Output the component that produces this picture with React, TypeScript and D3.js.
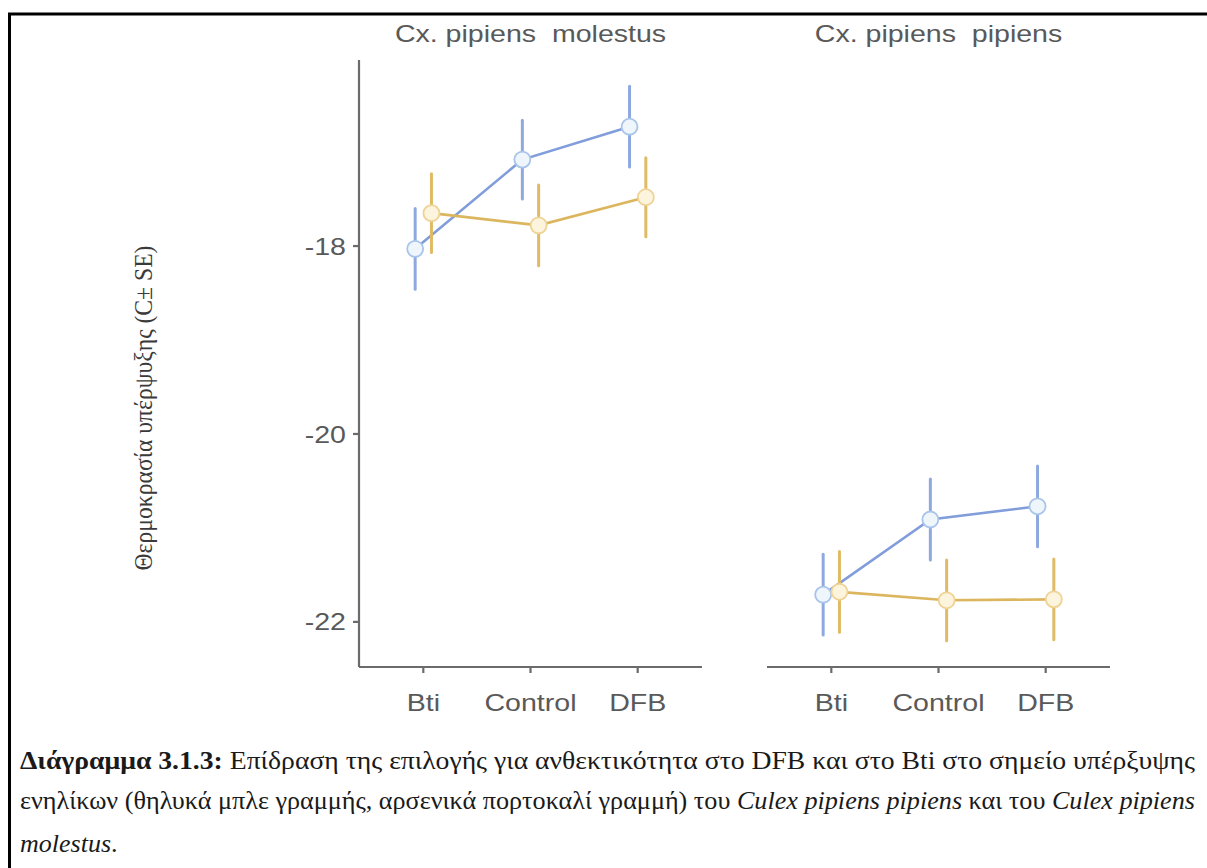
import React from "react";
import * as d3 from "d3";

// Treatments on the x axis, facet titles and y ticks
const treatments = ["Bti", "Control", "DFB"];
const facetTitles = ["Cx. pipiens  molestus", "Cx. pipiens  pipiens"];
const yTicks = [-18, -20, -22];

// Supercooling point means (°C) per treatment: Bti, Control, DFB
const molestusFemale = [-18.03, -17.08, -16.73];
const molestusMale = [-17.65, -17.78, -17.48];
const pipiensFemale = [-21.71, -20.91, -20.77];
const pipiensMale = [-21.68, -21.77, -21.76];

// Standard errors for the same cells
const molestusFemaleSE = [0.43, 0.42, 0.43];
const molestusMaleSE = [0.42, 0.43, 0.42];
const pipiensFemaleSE = [0.43, 0.43, 0.43];
const pipiensMaleSE = [0.43, 0.43, 0.43];

const W = 1207;
const H = 868;

const textGrey = "#595959";
const axisGrey = "#6b6b6b";
const chartFont = "'Liberation Sans', Arial, Helvetica, sans-serif";
const serif = "'Liberation Serif', 'DejaVu Serif', serif";
const stretch = 1.19;

const sexStyle = {
  female: { line: "#819ddb", bar: "#8ea9e0", fill: "#eef6fc", stroke: "#a9c4ea", dodge: -1 },
  male: { line: "#dcb65e", bar: "#dfbb66", fill: "#fdf4dd", stroke: "#eed394", dodge: 1 },
};

type Series = { sex: "female" | "male"; means: number[]; se: number[] };

const facets: { title: string; x0: number; x1: number; showY: boolean; series: Series[] }[] = [
  {
    title: facetTitles[0],
    x0: 359,
    x1: 702,
    showY: true,
    series: [
      { sex: "female", means: molestusFemale, se: molestusFemaleSE },
      { sex: "male", means: molestusMale, se: molestusMaleSE },
    ],
  },
  {
    title: facetTitles[1],
    x0: 767,
    x1: 1110,
    showY: false,
    series: [
      { sex: "female", means: pipiensFemale, se: pipiensFemaleSE },
      { sex: "male", means: pipiensMale, se: pipiensMaleSE },
    ],
  },
];

const plotTop = 60;
const plotBottom = 667;
const y = d3.scaleLinear().domain([-22.48, -16.02]).range([plotBottom, plotTop]);

function SText(props: {
  x: number;
  y: number;
  anchor: "start" | "middle" | "end";
  size: number;
  children: React.ReactNode;
}) {
  return (
    <g transform={`translate(${props.x},${props.y}) scale(${stretch},1)`}>
      <text
        textAnchor={props.anchor}
        fontFamily={chartFont}
        fontSize={props.size}
        fill={textGrey}
        style={{ whiteSpace: "pre" }}
      >
        {props.children}
      </text>
    </g>
  );
}

function Facet({ f }: { f: (typeof facets)[number] }) {
  const x = d3.scalePoint<string>().domain(treatments).range([f.x0, f.x1]).padding(0.6);
  const dodgePx = x.step() * 0.076;
  const line = d3
    .line<[number, number]>()
    .x((d) => d[0])
    .y((d) => d[1]);

  return (
    <g>
      <SText x={(f.x0 + f.x1) / 2} y={42} anchor="middle" size={24}>
        {f.title}
      </SText>

      {/* axes */}
      <line x1={f.x0} x2={f.x1} y1={plotBottom} y2={plotBottom} stroke={axisGrey} strokeWidth={2.2} />
      {treatments.map((t) => (
        <g key={t}>
          <line x1={x(t)!} x2={x(t)!} y1={plotBottom} y2={plotBottom + 6} stroke={axisGrey} strokeWidth={2.2} />
          <SText x={x(t)!} y={711} anchor="middle" size={24}>
            {t}
          </SText>
        </g>
      ))}
      {f.showY && (
        <g>
          <line x1={f.x0} x2={f.x0} y1={plotTop} y2={plotBottom} stroke={axisGrey} strokeWidth={2.2} />
          {yTicks.map((v) => (
            <g key={v}>
              <line x1={f.x0 - 6} x2={f.x0} y1={y(v)} y2={y(v)} stroke={axisGrey} strokeWidth={2.2} />
              <SText x={f.x0 - 13} y={y(v) + 8.6} anchor="end" size={24}>
                {String(v)}
              </SText>
            </g>
          ))}
        </g>
      )}

      {/* connecting lines */}
      {f.series.map((s) => {
        const st = sexStyle[s.sex];
        const pts = s.means.map((m, i) => [x(treatments[i])! + st.dodge * dodgePx, y(m)] as [number, number]);
        return <path key={s.sex} d={line(pts)!} fill="none" stroke={st.line} strokeWidth={2.6} />;
      })}

      {/* error bars and points */}
      {f.series.map((s) => {
        const st = sexStyle[s.sex];
        return (
          <g key={s.sex}>
            {s.means.map((m, i) => {
              const cx = x(treatments[i])! + st.dodge * dodgePx;
              return (
                <g key={i}>
                  <line
                    x1={cx}
                    x2={cx}
                    y1={y(m + s.se[i])}
                    y2={y(m - s.se[i])}
                    stroke={st.bar}
                    strokeWidth={3}
                    strokeLinecap="round"
                  />
                  <circle cx={cx} cy={y(m)} r={8} fill={st.fill} stroke={st.stroke} strokeWidth={1.8} />
                </g>
              );
            })}
          </g>
        );
      })}
    </g>
  );
}

export default function App() {
  return (
    <svg
      width={W}
      height={H}
      viewBox={`0 0 ${W} ${H}`}
      style={{ position: "absolute", left: 0, top: 0, background: "#fff" }}
    >
      <rect x={0} y={0} width={W} height={H} fill="#fff" />
      {/* frame around figure and caption */}
      <rect x={9.5} y={14} width={W + 20} height={H + 20} fill="none" stroke="#000" strokeWidth={3} />

      <text
        transform="translate(143,408) rotate(-90)"
        textAnchor="middle"
        dominantBaseline="central"
        fontFamily={serif}
        fontSize={25}
        fill="#3a3a3a"
        textLength={325}
        lengthAdjust="spacingAndGlyphs"
      >
        Θερμοκρασία υπέρψυξης (C± SE)
      </text>

      {facets.map((f) => (
        <Facet key={f.title} f={f} />
      ))}

      {/* caption */}
      <g fontFamily={serif} fontSize={26} fill="#1a1a1a">
        <text x={20} y={769} textLength={1175} lengthAdjust="spacingAndGlyphs">
          <tspan fontWeight="bold">Διάγραμμα 3.1.3:</tspan> Επίδραση της επιλογής για ανθεκτικότητα στο DFB και στο
          Bti στο σημείο υπέρξυψης
        </text>
        <text x={20} y={809} textLength={1175} lengthAdjust="spacingAndGlyphs">
          ενηλίκων (θηλυκά μπλε γραμμής, αρσενικά πορτοκαλί γραμμή) του{" "}
          <tspan fontStyle="italic">Culex pipiens pipiens</tspan> και του <tspan fontStyle="italic">Culex pipiens</tspan>
        </text>
        <text x={20} y={852}>
          <tspan fontStyle="italic">molestus</tspan>.
        </text>
      </g>
    </svg>
  );
}
